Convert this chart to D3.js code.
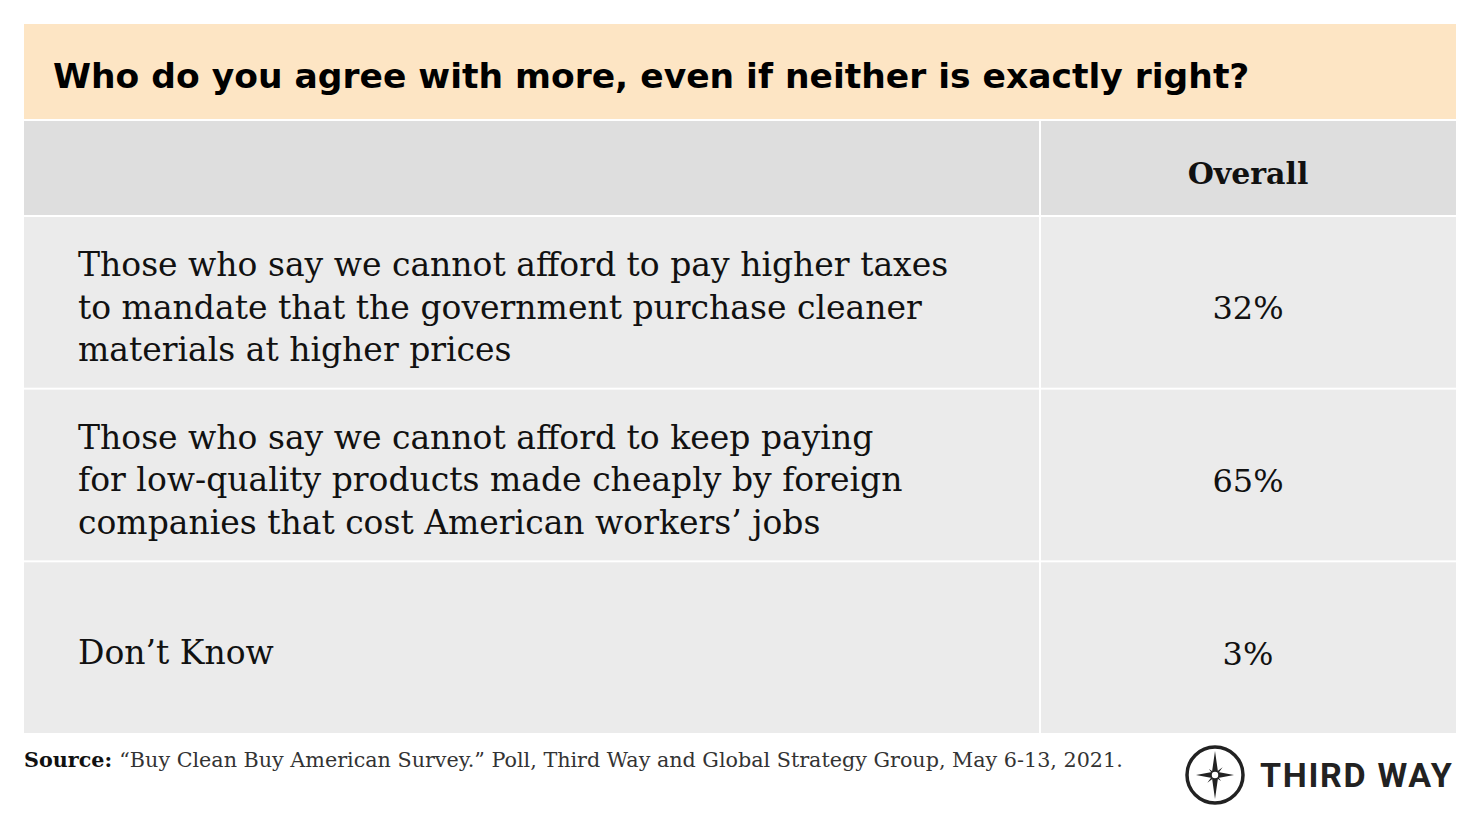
<!DOCTYPE html>
<html>
<head>
<meta charset="utf-8">
<script src="https://d3js.org/d3.v7.min.js"></script>
<style>html,body{margin:0;padding:0;background:#fff;}</style>
</head>
<body>
<div id="chart"></div>
<script>
// data
const title = "Who do you agree with more, even if neither is exactly right?";
const columnHeader = "Overall";
const answers = [
  ["Those who say we cannot afford to pay higher taxes", "to mandate that the government purchase cleaner", "materials at higher prices"],
  ["Those who say we cannot afford to keep paying", "for low-quality products made cheaply by foreign", "companies that cost American workers\u2019 jobs"],
  ["Don\u2019t Know"]
];
const shares = ["32%", "65%", "3%"];
const sourceText = "\u201cBuy Clean Buy American Survey.\u201d Poll, Third Way and Global Strategy Group, May 6-13, 2021.";

const width = 1480, height = 827;
const left = 24, right = 1456, split = 1040;
const svg = d3.select("#chart").append("svg").attr("width", width).attr("height", height);

// title band
svg.append("rect").attr("x", left).attr("y", 24).attr("width", right - left).attr("height", 95).attr("fill", "#fde5c4");
svg.append("text").attr("x", 53).attr("y", 88)
  .style("font-family", "DejaVu Sans").style("font-weight", "bold").style("font-size", "34.5px")
  .attr("fill", "#000").text(title);

// header row
svg.append("rect").attr("x", left).attr("y", 121).attr("width", split - left - 1).attr("height", 94).attr("fill", "#dedede");
svg.append("rect").attr("x", split + 1).attr("y", 121).attr("width", right - split - 1).attr("height", 94).attr("fill", "#dedede");
svg.append("text").attr("x", 1248).attr("y", 184).attr("text-anchor", "middle")
  .style("font-family", "DejaVu Serif").style("font-weight", "bold").style("font-size", "30px")
  .attr("fill", "#111").text(columnHeader);

// body rows
const y = d3.scaleBand().domain(d3.range(answers.length)).range([217, 735]);
const rows = svg.selectAll(".row").data(answers).enter().append("g").attr("class", "row")
  .attr("transform", (d, i) => `translate(0,${y(i)})`);
rows.append("rect").attr("x", left).attr("width", split - left - 1).attr("height", y.bandwidth() - 2).attr("fill", "#ebebeb");
rows.append("rect").attr("x", split + 1).attr("width", right - split - 1).attr("height", y.bandwidth() - 2).attr("fill", "#ebebeb");
rows.append("text")
  .style("font-family", "DejaVu Serif").style("font-size", "33px").attr("fill", "#111")
  .each(function (lines) {
    const t = d3.select(this);
    const mid = (y.bandwidth() - 2) / 2;
    const start = mid - (lines.length - 1) * 21 + 16;
    lines.forEach((l, k) => t.append("tspan").attr("x", 78).attr("y", start + k * 42.5).text(l));
  });
rows.append("text").attr("x", 1248).attr("y", (y.bandwidth() - 2) / 2 + 17).attr("text-anchor", "middle")
  .style("font-family", "DejaVu Serif").style("font-size", "32px").attr("fill", "#111")
  .text((d, i) => shares[i]);

// source
const src = svg.append("text").attr("x", 24).attr("y", 767)
  .style("font-family", "DejaVu Serif").style("font-size", "20.7px").attr("fill", "#333");
src.append("tspan").style("font-weight", "bold").attr("fill", "#111").text("Source: ");
src.append("tspan").text(sourceText);

// logo
const logo = svg.append("g").attr("transform", "translate(1215,775)");
logo.append("circle").attr("r", 28).attr("fill", "none").attr("stroke", "#222").attr("stroke-width", 3.5);
const star = "M0,-24 L3,-3 L19,0 L3,3 L0,24 L-3,3 L-19,0 L-3,-3 Z";
logo.append("path").attr("d", star).attr("fill", "#222");
logo.append("path").attr("d", star).attr("fill", "#222").attr("transform", "rotate(45) scale(0.45)");
logo.append("circle").attr("r", 4).attr("fill", "#fff").attr("stroke", "#222").attr("stroke-width", 1.5);
svg.append("text").attr("x", 1260).attr("y", 787)
  .style("font-family", "Roboto").style("font-weight", "bold").style("font-size", "34px")
  .style("letter-spacing", "1.7px").attr("fill", "#222")
  .text("THIRD WAY");
</script>
</body>
</html>
